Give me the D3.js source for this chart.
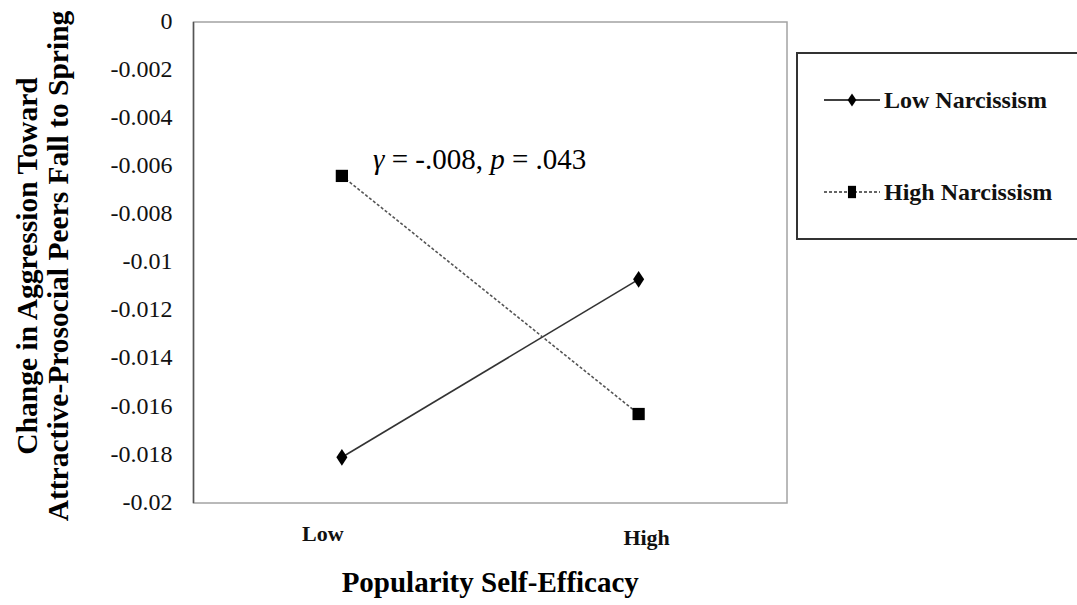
<!DOCTYPE html>
<html>
<head>
<meta charset="utf-8">
<script src="https://cdn.jsdelivr.net/npm/d3@7"></script>
<style>
  body { margin: 0; background: #fff; }
  svg text { font-family: "Liberation Serif", "Times New Roman", Times, serif !important; }
</style>
</head>
<body>
<svg id="chart"></svg>
<script>
const width = 1077, height = 605;
const margin = { top: 22, right: 290, bottom: 102, left: 193.5 };
const plotWidth = width - margin.left - margin.right;
const plotHeight = height - margin.top - margin.bottom;

// Data
const categories = ["Low", "High"];
const seriesNames = ["Low Narcissism", "High Narcissism"];
const lowNarcissism = [-0.0181, -0.0107];
const highNarcissism = [-0.0064, -0.0163];
const yTicks = [0, -0.002, -0.004, -0.006, -0.008, -0.01, -0.012, -0.014, -0.016, -0.018, -0.02];
const annotation = "= -.008, ";

const svg = d3.select("#chart")
    .attr("width", width)
    .attr("height", height);

const g = svg.append("g")
    .attr("transform", `translate(${margin.left},${margin.top})`);

// Scales
const xScale = d3.scalePoint().domain(categories).range([0, plotWidth]).padding(0.5);
const yScale = d3.scaleLinear().domain([-0.02, 0]).range([plotHeight, 0]);

// Plot frame
g.append("rect")
    .attr("width", plotWidth)
    .attr("height", plotHeight)
    .attr("fill", "none")
    .attr("stroke", "#a3a3a3")
    .attr("stroke-width", 1.5);

g.append("line")
    .attr("x1", 0).attr("x2", 0)
    .attr("y1", 0).attr("y2", plotHeight)
    .attr("stroke", "#555")
    .attr("stroke-width", 1.5);

// Y axis
const yAxis = g.append("g")
    .call(d3.axisLeft(yScale).tickValues(yTicks).tickSize(0).tickPadding(21)
        .tickFormat(d => d === 0 ? "0" : String(d)));
yAxis.attr("font-family", null);
yAxis.select(".domain").remove();
yAxis.selectAll("text")
    .attr("font-size", 24)
    .attr("dy", "0.26em")
    .attr("fill", "#111");

// X labels
const xOffsets = [-19, 8];
g.append("g")
    .selectAll("text")
    .data(categories)
    .enter()
    .append("text")
    .attr("x", (d, i) => xScale(d) + xOffsets[i])
    .attr("y", (d, i) => plotHeight + (i === 0 ? 38 : 42))
    .attr("text-anchor", "middle")
    .attr("font-size", 22)
    .attr("font-weight", "bold")
    .attr("fill", "#111")
    .text(d => d);

// Axis titles
svg.append("text")
    .attr("x", margin.left + plotWidth / 2)
    .attr("y", 592)
    .attr("text-anchor", "middle")
    .attr("font-size", 29)
    .attr("font-weight", "bold")
    .text("Popularity Self-Efficacy");

const yTitle = svg.append("text")
    .attr("transform", "translate(37,266) rotate(-90)")
    .attr("text-anchor", "middle")
    .attr("font-size", 29.5)
    .attr("font-weight", "bold");
yTitle.append("tspan").attr("x", 0).attr("y", 0).text("Change in Aggression Toward");
yTitle.append("tspan").attr("x", 0).attr("y", 31).text("Attractive-Prosocial Peers Fall to Spring");

// Lines
const line = d3.line()
    .x((d, i) => xScale(categories[i]))
    .y(d => yScale(d));

g.append("path")
    .datum(lowNarcissism)
    .attr("d", line)
    .attr("fill", "none")
    .attr("stroke", "#333")
    .attr("stroke-width", 1.6);

g.append("path")
    .datum(highNarcissism)
    .attr("d", line)
    .attr("fill", "none")
    .attr("stroke", "#555")
    .attr("stroke-width", 1.6)
    .attr("stroke-dasharray", "3,2");

const diamond = d3.symbol().type(d3.symbolDiamond).size(80);
const square = d3.symbol().type(d3.symbolSquare).size(150);

g.selectAll(".low-pt")
    .data(lowNarcissism)
    .enter()
    .append("path")
    .attr("class", "low-pt")
    .attr("d", diamond)
    .attr("transform", (d, i) => `translate(${xScale(categories[i])},${yScale(d)}) scale(1.15,1)`)
    .attr("fill", "#000");

g.selectAll(".high-pt")
    .data(highNarcissism)
    .enter()
    .append("path")
    .attr("class", "high-pt")
    .attr("d", square)
    .attr("transform", (d, i) => `translate(${xScale(categories[i])},${yScale(d)})`)
    .attr("fill", "#000");

// Annotation
const ann = svg.append("text")
    .attr("x", 373)
    .attr("y", 169)
    .attr("font-size", 29)
    .attr("fill", "#000");
ann.append("tspan").attr("font-style", "italic").text("γ");
ann.append("tspan").text(" " + annotation);
ann.append("tspan").attr("font-style", "italic").text("p");
ann.append("tspan").text(" = .043");

// Legend
const legend = svg.append("g");
legend.append("rect")
    .attr("x", 797)
    .attr("y", 53)
    .attr("width", 300)
    .attr("height", 186)
    .attr("fill", "none")
    .attr("stroke", "#333")
    .attr("stroke-width", 2);

const legendY = [100, 192];
const legendItems = legend.selectAll(".item")
    .data(seriesNames)
    .enter()
    .append("g")
    .attr("class", "item")
    .attr("transform", (d, i) => `translate(0,${legendY[i]})`);

legendItems.append("line")
    .attr("x1", 824).attr("x2", 880)
    .attr("y1", 0).attr("y2", 0)
    .attr("stroke", (d, i) => i === 0 ? "#000" : "#333")
    .attr("stroke-width", 1.5)
    .attr("stroke-dasharray", (d, i) => i === 0 ? null : "3,2");

legendItems.append("path")
    .attr("d", (d, i) => i === 0 ? d3.symbol().type(d3.symbolDiamond).size(50)() : d3.symbol().type(d3.symbolSquare).size(90)())
    .attr("transform", (d, i) => i === 0 ? "translate(852,0) scale(1.15,1)" : "translate(852,0) scale(0.85,1.3)")
    .attr("fill", "#000");

legendItems.append("text")
    .attr("x", 884)
    .attr("y", 8)
    .attr("font-size", 24)
    .attr("font-weight", "bold")
    .attr("fill", "#111")
    .text(d => d);
</script>
</body>
</html>
